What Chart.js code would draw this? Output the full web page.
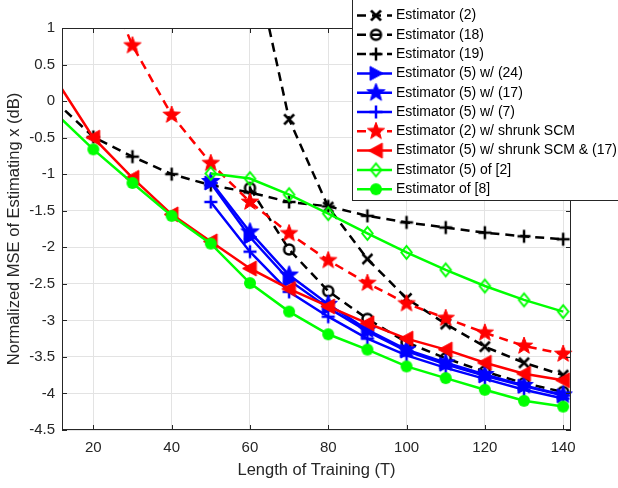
<!DOCTYPE html>
<html>
<head>
<meta charset="utf-8">
<script src="https://cdn.jsdelivr.net/npm/chart.js@4.4.1/dist/chart.umd.min.js"></script>
<style>
  body { margin: 0; background: #fff; }
  canvas { display: block; }
</style>
</head>
<body>
<canvas id="mseChart" width="618" height="488"></canvas>
<script>
// training lengths and axis ticks
const trainLen = [10, 20, 30, 40, 50, 60, 70, 80, 90, 100, 110, 120, 130, 140];
const xTicks = [20, 40, 60, 80, 100, 120, 140];
const yTicks = [-4.5, -4, -3.5, -3, -2.5, -2, -1.5, -1, -0.5, 0, 0.5, 1];

// normalized MSE (dB)
const est2        = [null, null, null, null, null, 2.2, -0.25, -1.45, -2.16, -2.7, -3.05, -3.36, -3.58, -3.75];
const est18       = [null, null, null, null, null, -1.19, -2.03, -2.6, -2.98, -3.3, -3.52, -3.7, -3.86, -3.98];
const est19       = [0.01, -0.49, -0.76, -1.0, -1.15, -1.25, -1.38, -1.44, -1.57, -1.66, -1.73, -1.8, -1.85, -1.89];
const est5w24     = [null, null, null, null, -1.12, -1.86, -2.45, -2.83, -3.15, -3.42, -3.6, -3.76, -3.9, -4.03];
const est5w17     = [null, null, null, null, -1.1, -1.79, -2.38, -2.78, -3.13, -3.4, -3.58, -3.74, -3.89, -4.02];
const est5w7      = [null, null, null, null, -1.38, -2.06, -2.61, -2.95, -3.25, -3.48, -3.65, -3.8, -3.95, -4.07];
const est2Shrunk  = [null, 2.05, 0.76, -0.19, -0.85, -1.38, -1.81, -2.18, -2.49, -2.77, -2.97, -3.17, -3.35, -3.46];
const est5Shrunk  = [0.33, -0.5, -1.05, -1.55, -1.92, -2.29, -2.57, -2.81, -3.04, -3.25, -3.4, -3.58, -3.73, -3.82];
const est5of2     = [null, null, null, null, -0.99, -1.06, -1.28, -1.54, -1.81, -2.07, -2.31, -2.53, -2.72, -2.88];
const estOf8      = [-0.15, -0.66, -1.12, -1.57, -1.95, -2.49, -2.88, -3.19, -3.4, -3.63, -3.79, -3.95, -4.1, -4.18];

const seriesLabels = [
    'Estimator (2)', 'Estimator (18)', 'Estimator (19)',
    'Estimator (5) w/ (24)', 'Estimator (5) w/ (17)', 'Estimator (5) w/ (7)',
    'Estimator (2) w/ shrunk SCM', 'Estimator (5) w/ shrunk SCM & (17)',
    'Estimator (5) of [2]', 'Estimator of [8]'
];
const seriesValues = [est2, est18, est19, est5w24, est5w17, est5w7, est2Shrunk, est5Shrunk, est5of2, estOf8];

// draw a MATLAB-like marker onto a small canvas
function makeMarker(kind, color, r, lw) {
    const size = Math.ceil(2 * r + lw + 4);
    const c = document.createElement('canvas');
    c.width = size;
    c.height = size;
    const g = c.getContext('2d');
    g.translate(size / 2, size / 2);
    g.strokeStyle = color;
    g.fillStyle = color;
    g.lineWidth = lw;
    g.beginPath();
    if (kind === 'x') {
        g.moveTo(-r, -r); g.lineTo(r, r); g.moveTo(r, -r); g.lineTo(-r, r);
        g.stroke();
    } else if (kind === '+') {
        g.moveTo(-r, 0); g.lineTo(r, 0); g.moveTo(0, -r); g.lineTo(0, r);
        g.stroke();
    } else if (kind === 'o') {
        g.arc(0, 0, r, 0, Math.PI * 2);
        g.stroke();
    } else if (kind === 'dot') {
        g.arc(0, 0, r, 0, Math.PI * 2);
        g.fill();
    } else if (kind === 'diamond') {
        g.moveTo(0, -r); g.lineTo(r * 0.8, 0); g.lineTo(0, r); g.lineTo(-r * 0.8, 0);
        g.closePath();
        g.stroke();
    } else if (kind === '>' || kind === '<') {
        const s = kind === '>' ? 1 : -1;
        g.moveTo(s * r, 0); g.lineTo(-s * r * 0.85, -r); g.lineTo(-s * r * 0.85, r);
        g.closePath();
        g.fill();
        g.lineWidth = 1;
        g.stroke();
    } else if (kind === 'star') {
        for (let i = 0; i < 10; i++) {
            const ang = -Math.PI / 2 + i * Math.PI / 5;
            const rad = i % 2 ? r * 0.42 : r;
            g.lineTo(rad * Math.cos(ang), rad * Math.sin(ang));
        }
        g.closePath();
        g.fill();
        g.lineWidth = 1;
        g.stroke();
    }
    return c;
}

const styles = [
    { color: '#000000', dash: [9, 6], marker: makeMarker('x', '#000000', 5, 2.5) },
    { color: '#000000', dash: [9, 6], marker: makeMarker('o', '#000000', 5, 2.5) },
    { color: '#000000', dash: [9, 6], marker: makeMarker('+', '#000000', 6.5, 2.5) },
    { color: '#0000ff', dash: [], marker: makeMarker('>', '#0000ff', 7, 2) },
    { color: '#0000ff', dash: [], marker: makeMarker('star', '#0000ff', 9.5, 2) },
    { color: '#0000ff', dash: [], marker: makeMarker('+', '#0000ff', 6.5, 2.5) },
    { color: '#ff0000', dash: [9, 6], marker: makeMarker('star', '#ff0000', 9, 2) },
    { color: '#ff0000', dash: [], marker: makeMarker('<', '#ff0000', 7.5, 2) },
    { color: '#00ff00', dash: [], marker: makeMarker('diamond', '#00ff00', 6.5, 2) },
    { color: '#00ff00', dash: [], marker: makeMarker('dot', '#00ff00', 6, 2) }
];

const datasets = seriesValues.map((vals, i) => ({
    label: seriesLabels[i],
    data: trainLen.map((t, k) => ({ x: t, y: vals[k] })).filter(p => p.y !== null),
    borderColor: styles[i].color,
    backgroundColor: styles[i].color,
    borderWidth: 2.5,
    borderDash: styles[i].dash,
    pointStyle: styles[i].marker,
    pointRadius: 5,
    pointHoverRadius: 5,
    tension: 0,
    order: seriesValues.length - i,
    clip: { left: 0, top: 0, right: 8, bottom: 0 }
}));

// box, inward ticks and the legend drawn on top of the data
const axesBox = {
    id: 'axesBox',
    afterDraw(chart) {
        const { ctx, chartArea: a, scales: { x, y } } = chart;
        ctx.save();
        ctx.strokeStyle = '#262626';
        ctx.lineWidth = 1;
        ctx.setLineDash([]);
        ctx.strokeRect(a.left + 0.5, a.top + 0.5, a.right - a.left - 1, a.bottom - a.top - 1);
        ctx.beginPath();
        xTicks.forEach(v => {
            const px = Math.round(x.getPixelForValue(v)) + 0.5;
            ctx.moveTo(px, a.bottom); ctx.lineTo(px, a.bottom - 5);
            ctx.moveTo(px, a.top); ctx.lineTo(px, a.top + 5);
        });
        yTicks.forEach(v => {
            const py = Math.round(y.getPixelForValue(v)) + 0.5;
            ctx.moveTo(a.left, py); ctx.lineTo(a.left + 5, py);
            ctx.moveTo(a.right, py); ctx.lineTo(a.right - 5, py);
        });
        ctx.stroke();

        // legend
        const lx = 352, ly = -1, lw = 270, lh = 202;
        ctx.fillStyle = '#ffffff';
        ctx.fillRect(lx, ly, lw, lh);
        ctx.strokeStyle = '#262626';
        ctx.strokeRect(lx + 0.5, ly + 0.5, lw, lh - 1);
        ctx.font = '14px "Liberation Sans", Arial, sans-serif';
        ctx.textBaseline = 'middle';
        seriesLabels.forEach((label, i) => {
            const yy = 15.5 + i * 19.3;
            ctx.strokeStyle = styles[i].color;
            ctx.lineWidth = 2.5;
            ctx.setLineDash(styles[i].dash);
            ctx.beginPath();
            ctx.moveTo(357, yy);
            ctx.lineTo(392, yy);
            ctx.stroke();
            ctx.setLineDash([]);
            const m = styles[i].marker;
            ctx.drawImage(m, 376 - m.width / 2, yy - m.height / 2);
            ctx.fillStyle = '#000000';
            ctx.fillText(label, 396, yy);
        });
        ctx.restore();
    }
};

const tickFont = { family: '"Liberation Sans", Arial, sans-serif', size: 15 };
const titleFont = { family: '"Liberation Sans", Arial, sans-serif', size: 16.5 };

new Chart(document.getElementById('mseChart'), {
    type: 'line',
    data: { datasets },
    options: {
        responsive: false,
        animation: false,
        layout: { padding: { left: 0, right: 47, top: 28, bottom: 0 } },
        plugins: {
            legend: { display: false },
            tooltip: { enabled: false }
        },
        scales: {
            x: {
                type: 'linear',
                min: 12,
                max: 142,
                afterBuildTicks: s => { s.ticks = xTicks.map(v => ({ value: v })); },
                afterFit: s => { s.height = 58; },
                grid: { color: '#e3e3e3', drawTicks: false },
                border: { display: false },
                ticks: { font: tickFont, color: '#262626', padding: 9, maxRotation: 0 },
                title: { display: true, text: 'Length of Training (T)', font: titleFont, color: '#262626', padding: { top: 0, bottom: 8 } }
            },
            y: {
                min: -4.5,
                max: 1,
                afterBuildTicks: s => { s.ticks = yTicks.map(v => ({ value: v })); },
                afterFit: s => { s.width = 62; },
                grid: { color: '#e3e3e3', drawTicks: false },
                border: { display: false },
                ticks: { font: tickFont, color: '#262626', padding: 7, callback: v => String(v) },
                title: { display: true, text: 'Normalized MSE of Estimating x (dB)', font: titleFont, color: '#262626', padding: { top: 5, bottom: 0 } }
            }
        }
    },
    plugins: [axesBox]
});
</script>
</body>
</html>
